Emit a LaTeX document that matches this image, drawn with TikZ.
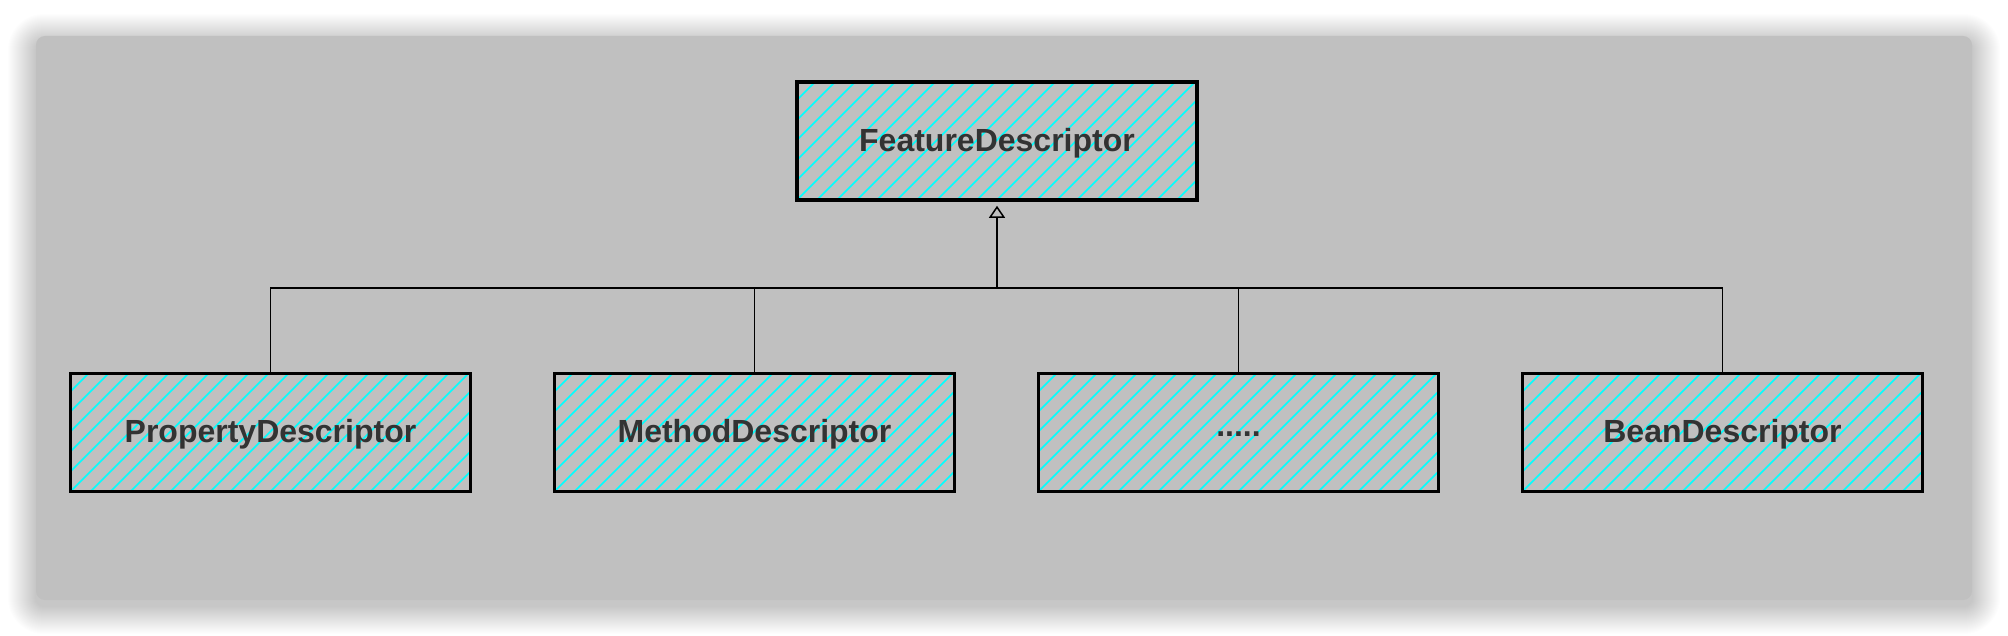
\documentclass[tikz,border=0pt]{standalone}
\usepackage{fontspec}
\setmainfont{Liberation Sans}
\usetikzlibrary{arrows.meta}
\definecolor{panel}{RGB}{192,192,192}
\definecolor{hatchc}{RGB}{0,255,255}
\definecolor{txt}{RGB}{51,51,51}
\begin{document}
\begin{tikzpicture}[x=1pt,y=-1pt,
  cls/.style={draw=black, line width=3.6pt, minimum width=400pt, minimum height=118pt,
    inner sep=0pt, font=\fontsize{32}{38}\selectfont\bfseries, text=txt,
    path picture={\foreach \k in {-140,-120,...,420}
      \draw[hatchc, line width=1.6pt] ([xshift=\k pt]path picture bounding box.south west) -- ++(140,-140);}},
  lbl/.style={font=\fontsize{32}{38}\selectfont\bfseries, text=txt, inner sep=0pt},
  conn/.style={draw=black, line width=1.5pt}]
\useasboundingbox (0,0) rectangle (2008,636);
\fill[white] (0,0) rectangle (2008,636);
\foreach \i in {1,...,28}{
  \pgfmathsetmacro\rr{8+\i}
  \fill[black, opacity=0.007, rounded corners=\rr pt] (36-\i,42-\i) rectangle (1972+\i,606+\i);
}
\fill[panel, rounded corners=9pt] (36,36) rectangle (1972,600);

\node[cls] (top) at (997,141) {};
\node[cls] (b1) at (270.5,432.5) {};
\node[cls] (b2) at (754.5,432.5) {};
\node[cls] (b3) at (1238.5,432.5) {};
\node[cls] (b4) at (1722.5,432.5) {};
\node[lbl] (ttop) at ([yshift=-2pt]top.center) {FeatureDescriptor};
\node[lbl] (t1) at ([yshift=-2pt]b1.center) {PropertyDescriptor};
\node[lbl] (t2) at ([yshift=-2pt]b2.center) {MethodDescriptor};
\node[lbl] (t3) at ([yshift=-2pt]b3.center) {.....};
\node[lbl] (t4) at ([yshift=-2pt]b4.center) {BeanDescriptor};

\coordinate (bus) at (997,288);
\draw[conn] (b1.north) |- (bus);
\draw[conn] (b2.north) |- (bus);
\draw[conn] (b3.north) |- (bus);
\draw[conn] (b4.north) |- (bus);
\draw[conn, -{Triangle[open, width=16pt, length=12pt, line width=1.5pt]}, shorten >=4pt] (bus) -- (top.south);
\end{tikzpicture}
\end{document}
